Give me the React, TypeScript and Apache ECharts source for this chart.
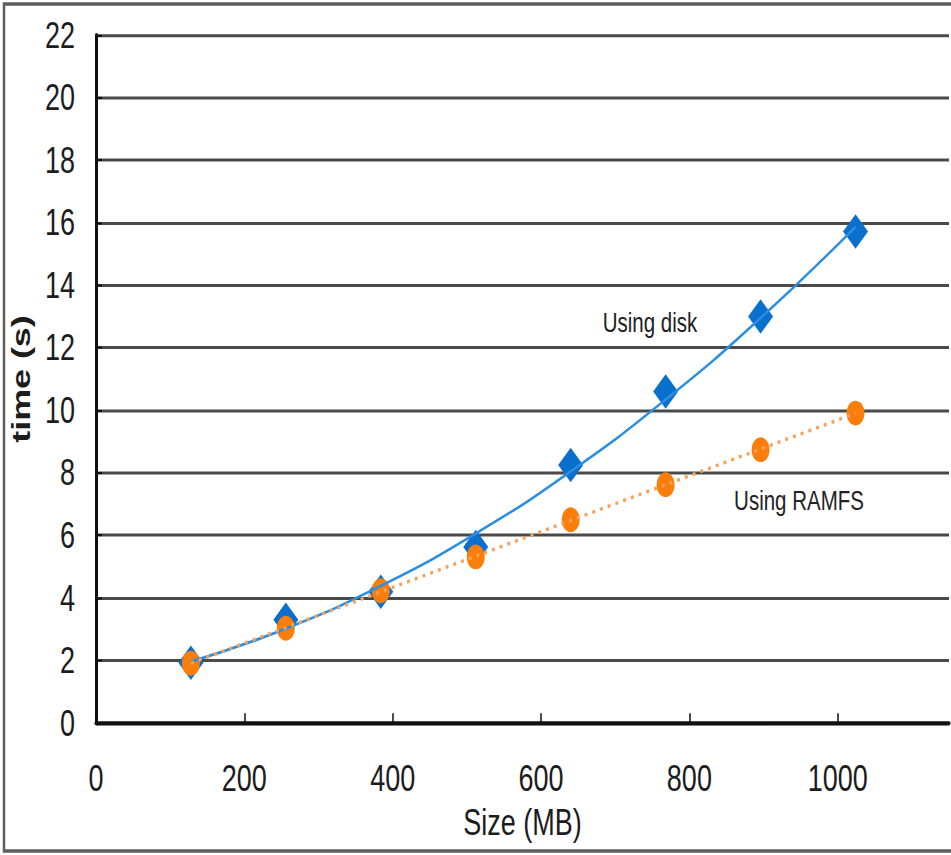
import React, { useEffect, useRef } from "react";
import * as echarts from "echarts";

// File sizes (MB) and measured run times (s)
const SIZES_MB = [128, 256, 384, 512, 640, 768, 896, 1024];
const DISK_TIME = [1.93, 3.3, 4.2, 5.63, 8.25, 10.6, 13.0, 15.72];
const RAMFS_TIME = [1.91, 3.03, 4.23, 5.31, 6.5, 7.62, 8.74, 9.91];

const X_AXIS = { min: 0, max: 1150, interval: 200 };
const Y_AXIS = { min: 0, max: 22, interval: 2 };

const SERIES_NAMES = ["Using disk", "Using RAMFS"];

// The plot is drawn at a reduced height and stretched vertically on screen.
const PAGE_W = 951;
const PAGE_H = 855;
const INNER_H = 620;
const STRETCH = PAGE_H / INNER_H;

const FONT = "'Liberation Sans', Arial, Helvetica, sans-serif";

// Least-squares polynomial fit, returns coefficients c0..cn
function polyfit(xs: number[], ys: number[], deg: number): number[] {
  const n = deg + 1;
  const A: number[][] = Array.from({ length: n }, () => new Array(n + 1).fill(0));
  for (let r = 0; r < n; r++) {
    for (let c = 0; c < n; c++) {
      A[r][c] = xs.reduce((s, x) => s + Math.pow(x, r + c), 0);
    }
    A[r][n] = xs.reduce((s, x, i) => s + Math.pow(x, r) * ys[i], 0);
  }
  for (let i = 0; i < n; i++) {
    let p = i;
    for (let k = i + 1; k < n; k++) if (Math.abs(A[k][i]) > Math.abs(A[p][i])) p = k;
    [A[i], A[p]] = [A[p], A[i]];
    for (let k = i + 1; k < n; k++) {
      const f = A[k][i] / A[i][i];
      for (let j = i; j <= n; j++) A[k][j] -= f * A[i][j];
    }
  }
  const c = new Array(n).fill(0);
  for (let i = n - 1; i >= 0; i--) {
    let s = A[i][n];
    for (let j = i + 1; j < n; j++) s -= A[i][j] * c[j];
    c[i] = s / A[i][i];
  }
  return c;
}

function trend(xs: number[], ys: number[], deg: number): number[][] {
  const c = polyfit(xs, ys, deg);
  return xs.map((x) => [x, c.reduce((s, ci, i) => s + ci * Math.pow(x, i), 0)]);
}

export default function App() {
  const ref = useRef<HTMLDivElement>(null);

  useEffect(() => {
    if (!ref.current) return;
    const chart = echarts.init(ref.current, undefined, { renderer: "svg" });

    const diskPts = SIZES_MB.map((x, i) => [x, DISK_TIME[i]]);
    const ramPts = SIZES_MB.map((x, i) => [x, RAMFS_TIME[i]]);

    const textStyle = { fontFamily: FONT, color: "#1c1c1c" };

    chart.setOption({
      animation: false,
      backgroundColor: "#ffffff",
      grid: {
        left: 92,
        right: 2,
        top: 35 / STRETCH,
        bottom: (PAGE_H - 723) / STRETCH,
      },
      xAxis: {
        type: "value",
        min: X_AXIS.min,
        max: X_AXIS.max,
        interval: X_AXIS.interval,
        name: "Size (MB)",
        nameLocation: "middle",
        nameGap: 57,
        nameTextStyle: { ...textStyle, fontSize: 27 },
        axisLine: { show: true, lineStyle: { color: "#111", width: 3 } },
        axisTick: { show: true, inside: true, length: 7, lineStyle: { color: "#111", width: 1.5 } },
        axisLabel: {
          ...textStyle,
          fontSize: 27,
          margin: 27,
          showMaxLabel: false,
          formatter: (v: number) => String(v),
        },
        splitLine: { show: false },
      },
      yAxis: {
        type: "value",
        min: Y_AXIS.min,
        max: Y_AXIS.max,
        interval: Y_AXIS.interval,
        name: "time (s)",
        nameLocation: "middle",
        nameGap: 48,
        nameTextStyle: { ...textStyle, fontSize: 26, fontWeight: "bold" },
        axisLine: { show: true, lineStyle: { color: "#111", width: 3 } },
        axisTick: { show: true, inside: true, length: 6, lineStyle: { color: "#111", width: 1.5 } },
        axisLabel: { ...textStyle, fontSize: 27, margin: 21, formatter: (v: number) => String(v) },
        splitLine: { show: true, lineStyle: { color: "#4a4a4a", width: 2.2 } },
      },
      series: [
        {
          name: SERIES_NAMES[0],
          type: "scatter",
          data: diskPts,
          symbol: "diamond",
          symbolSize: [25, 25],
          itemStyle: { color: "#0b6fce", opacity: 1 },
          z: 2,
        },
        {
          name: SERIES_NAMES[1],
          type: "scatter",
          data: ramPts,
          symbol: "circle",
          symbolSize: [18, 18],
          itemStyle: { color: "#fb7e0a", opacity: 1 },
          z: 3,
        },
        {
          name: SERIES_NAMES[0] + " trend",
          type: "line",
          data: trend(SIZES_MB, DISK_TIME, 2),
          smooth: true,
          symbol: "none",
          lineStyle: { color: "#2a8fe0", width: 2 },
          z: 4,
        },
        {
          name: SERIES_NAMES[1] + " trend",
          type: "line",
          data: trend(SIZES_MB, RAMFS_TIME, 1),
          symbol: "none",
          lineStyle: { color: "#f6a25a", width: 2.5, type: [3, 5] },
          z: 4,
        },
      ],
      graphic: [
        {
          type: "rect",
          shape: { x: 4, y: 4 / STRETCH, width: 1100, height: (851 - 4) / STRETCH },
          style: { fill: "none", stroke: "#5e5e5e", lineWidth: 2.5 },
          silent: true,
          z: 0,
        },
        {
          type: "text",
          x: 650,
          y: 322 / STRETCH,
          style: {
            text: SERIES_NAMES[0],
            fontSize: 20.5,
            fontFamily: FONT,
            fill: "#222",
            align: "center",
            verticalAlign: "middle",
            textAlign: "center",
            textVerticalAlign: "middle",
          },
          z: 10,
        },
        {
          type: "text",
          x: 799,
          y: 500 / STRETCH,
          style: {
            text: SERIES_NAMES[1],
            fontSize: 20.5,
            fontFamily: FONT,
            fill: "#222",
            align: "center",
            verticalAlign: "middle",
            textAlign: "center",
            textVerticalAlign: "middle",
          },
          z: 10,
        },
      ],
    });

    return () => chart.dispose();
  }, []);

  return (
    <div
      style={{
        position: "absolute",
        left: 0,
        top: 0,
        width: PAGE_W,
        height: PAGE_H,
        overflow: "hidden",
        background: "#fff",
      }}
    >
      <div
        ref={ref}
        style={{
          width: PAGE_W,
          height: INNER_H,
          transform: `scaleY(${STRETCH})`,
          transformOrigin: "0 0",
        }}
      />
    </div>
  );
}
